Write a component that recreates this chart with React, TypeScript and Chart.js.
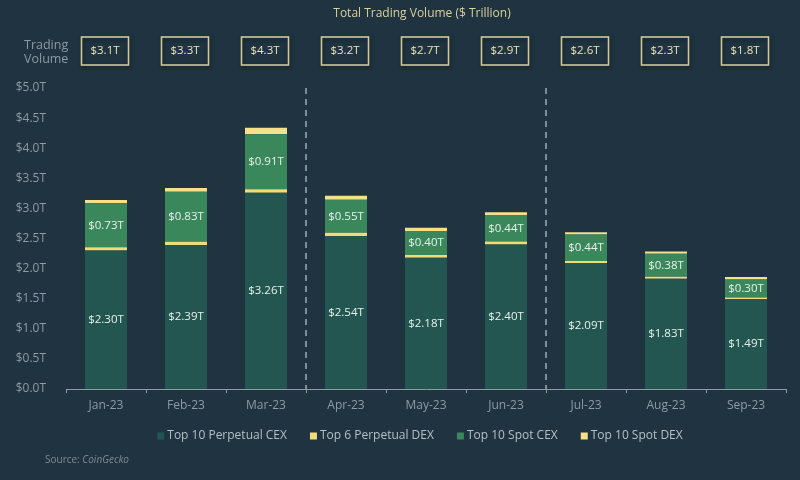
import React, { useEffect, useRef } from "react";
import { Chart, registerables } from "chart.js";

Chart.register(...registerables);

const months = ["Jan-23", "Feb-23", "Mar-23", "Apr-23", "May-23", "Jun-23", "Jul-23", "Aug-23", "Sep-23"];
const perpCex = [2.3, 2.39, 3.26, 2.54, 2.18, 2.4, 2.09, 1.83, 1.49];
const perpDex = [0.055, 0.055, 0.06, 0.055, 0.045, 0.05, 0.035, 0.035, 0.03];
const spotCex = [0.73, 0.83, 0.91, 0.55, 0.4, 0.44, 0.44, 0.38, 0.3];
const spotDex = [0.055, 0.065, 0.11, 0.065, 0.055, 0.045, 0.04, 0.04, 0.04];
const totalLabels = ["$3.1T", "$3.3T", "$4.3T", "$3.2T", "$2.7T", "$2.9T", "$2.6T", "$2.3T", "$1.8T"];
const seriesNames = ["Top 10 Perpetual CEX", "Top 6 Perpetual DEX", "Top 10 Spot CEX", "Top 10 Spot DEX"];
const dividerAfter = [2, 5];

const BG = "#1f3340";
const COLORS = ["#235651", "#efdb78", "#3a875b", "#f6e08a"];
const FONT = "'Open Sans', sans-serif";

const decorPlugin = {
  id: "decor",
  beforeDraw(chart: any) {
    const { ctx, width, height } = chart;
    ctx.save();
    ctx.fillStyle = BG;
    ctx.fillRect(0, 0, width, height);
    ctx.restore();
  },
  afterDatasetsDraw(chart: any) {
    const { ctx, chartArea } = chart;
    const x = chart.scales.x;
    ctx.save();
    // dashed dividers
    ctx.strokeStyle = "#a3acb3";
    ctx.lineWidth = 1.5;
    ctx.setLineDash([6, 5]);
    dividerAfter.forEach((i) => {
      const px = Math.round((x.getPixelForValue(i) + x.getPixelForValue(i + 1)) / 2);
      ctx.beginPath();
      ctx.moveTo(px, chartArea.top);
      ctx.lineTo(px, chartArea.bottom);
      ctx.stroke();
    });
    ctx.setLineDash([]);

    // data labels
    ctx.font = `11.5px ${FONT}`;
    ctx.fillStyle = "#e9f1ec";
    ctx.textAlign = "center";
    ctx.textBaseline = "middle";
    [0, 2].forEach((di) => {
      const meta = chart.getDatasetMeta(di);
      const vals = chart.data.datasets[di].data as number[];
      meta.data.forEach((bar: any, j: number) => {
        const cy = (bar.y + bar.base) / 2;
        ctx.fillText(`$${vals[j].toFixed(2)}T`, bar.x, cy);
      });
    });

    // title
    ctx.font = `12px ${FONT}`;
    ctx.fillStyle = "#d9d29a";
    ctx.fillText("Total Trading Volume ($ Trillion)", 422, 14);

    // trading volume label
    ctx.fillStyle = "#8d9ba2";
    ctx.textAlign = "left";
    ctx.font = `12.5px ${FONT}`;
    ctx.fillText("Trading", 24, 45);
    ctx.fillText("Volume", 24, 59);

    // total boxes
    ctx.textAlign = "center";
    months.forEach((_, i) => {
      const cx = x.getPixelForValue(i) - 1;
      const bw = 47;
      const bh = 28;
      const top = 37;
      ctx.save();
      ctx.shadowColor = "rgba(0,0,0,0.45)";
      ctx.shadowBlur = 4;
      ctx.shadowOffsetX = 1;
      ctx.shadowOffsetY = 2;
      ctx.strokeStyle = "#cfca92";
      ctx.lineWidth = 1.6;
      ctx.strokeRect(cx - bw / 2, top, bw, bh);
      ctx.restore();
      ctx.font = `11.5px ${FONT}`;
      ctx.fillStyle = "#ece5b4";
      ctx.fillText(totalLabels[i], cx, top + bh / 2);
    });

    // legend
    ctx.font = `12px ${FONT}`;
    const sq = 7;
    const gapText = 3;
    const gapItem = 23;
    const widths = seriesNames.map((n) => sq + gapText + ctx.measureText(n).width);
    const total = widths.reduce((a, b) => a + b, 0) + gapItem * (seriesNames.length - 1);
    let lx = 420 - total / 2;
    const ly = 436;
    ctx.textAlign = "left";
    seriesNames.forEach((n, i) => {
      ctx.fillStyle = COLORS[i];
      ctx.fillRect(lx, ly - sq / 2, sq, sq);
      ctx.fillStyle = "#b4c0c4";
      ctx.fillText(n, lx + sq + gapText, ly);
      lx += widths[i] + gapItem;
    });

    // source
    ctx.fillStyle = "#7d8d94";
    ctx.font = `10px ${FONT}`;
    ctx.fillText("Source: ", 45, 460);
    const sw = ctx.measureText("Source: ").width;
    ctx.font = `italic 10px ${FONT}`;
    ctx.fillText("CoinGecko", 45 + sw, 460);
    ctx.restore();
  },
};

export default function App() {
  const ref = useRef<HTMLCanvasElement>(null);
  useEffect(() => {
    document.body.style.margin = "0";
    document.body.style.background = BG;
    const canvas = ref.current!;
    const data = [perpCex, perpDex, spotCex, spotDex];
    const chart = new Chart(canvas, {
      type: "bar",
      data: {
        labels: months,
        datasets: seriesNames.map((name, i) => ({
          label: name,
          data: data[i],
          backgroundColor: COLORS[i],
          borderWidth: 0,
          barPercentage: 0.525,
          categoryPercentage: 1,
        })),
      },
      options: {
        animation: false,
        responsive: false,
        maintainAspectRatio: false,
        devicePixelRatio: 1,
        layout: { padding: { top: 88, right: 14, left: 0, bottom: 0 } },
        plugins: { legend: { display: false }, tooltip: { enabled: false }, title: { display: false } },
        scales: {
          x: {
            stacked: true,
            grid: { display: true, drawOnChartArea: false, drawTicks: true, tickLength: 4, color: "#8e9ca3", offset: true },
            border: { display: true, color: "#8e9ca3", width: 1 },
            ticks: { color: "#8d9ba2", font: { family: "'Open Sans'", size: 12 }, padding: 5, maxRotation: 0 },
            afterFit: (s: any) => {
              s.height = 91;
            },
          },
          y: {
            stacked: true,
            min: 0,
            max: 5,
            grid: { display: false },
            border: { display: false },
            ticks: {
              stepSize: 0.5,
              color: "#8d9ba2",
              font: { family: "'Open Sans'", size: 12 },
              padding: 12,
              callback: (v: any) => `$${Number(v).toFixed(1)}T`,
            },
            afterFit: (s: any) => {
              s.width = 66;
            },
          },
        },
      },
      plugins: [decorPlugin],
    });
    return () => chart.destroy();
  }, []);
  return (
    <div style={{ width: 800, height: 480 }}>
      <canvas ref={ref} width={800} height={480} style={{ display: "block" }} />
    </div>
  );
}
